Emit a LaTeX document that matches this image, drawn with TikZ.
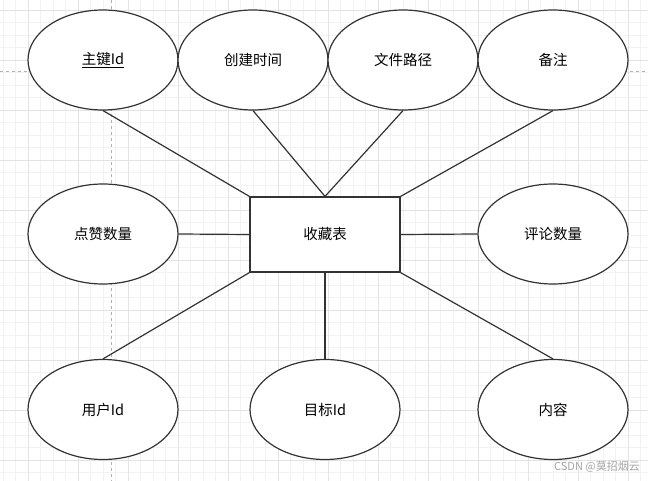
\documentclass[tikz,border=0pt]{standalone}
\usepackage{fontspec}
\newfontfamily\cjk{Noto Sans CJK SC}
\usetikzlibrary{shapes.geometric}

\begin{document}
\begin{tikzpicture}[x=1pt,y=-1pt,
  attr/.style={ellipse,draw=black!80,line width=1.2pt,fill=white,minimum width=150pt,minimum height=100pt,inner sep=0pt,font=\cjk\fontsize{14.5}{16}\selectfont},
  entity/.style={rectangle,draw=black!80,line width=1.2pt,fill=white,minimum width=150pt,minimum height=75pt,inner sep=0pt,font=\cjk\fontsize{14.5}{16}\selectfont},
  link/.style={draw=black!80,line width=1.2pt},
  minorgrid/.style={draw=black!5,line width=0.6pt},
  majorgrid/.style={draw=black!11,line width=0.8pt},
  guide/.style={draw=black!30,dashed,line width=0.6pt}]
  \useasboundingbox (0,0) rectangle (648,481);
  \fill[white] (0,0) rectangle (648,481);
  % background grid
  \foreach \x in {3,15.5,...,648} \draw[minorgrid] (\x,0) -- (\x,481);
  \foreach \y in {10,22.5,...,481} \draw[minorgrid] (0,\y) -- (648,\y);
  \foreach \x in {28,78,...,648} \draw[majorgrid] (\x,0) -- (\x,481);
  \foreach \y in {10,60,...,481} \draw[majorgrid] (0,\y) -- (648,\y);
  \draw[guide] (111,0) -- (111,481);
  \draw[guide] (0,71) -- (648,71);

  % entity and attributes
  \node[entity] (fav) at (325,234.5) {收藏表};
  \node[attr] (pk)   at (103,60) {\underline{主键Id}};
  \node[attr] (ctime) at (253,60) {创建时间};
  \node[attr] (path) at (403,60) {文件路径};
  \node[attr] (note) at (553,60) {备注};
  \node[attr] (likes) at (103,234) {点赞数量};
  \node[attr] (cmts) at (553,234) {评论数量};
  \node[attr] (uid) at (103,409.5) {用户Id};
  \node[attr] (tid) at (325,409.5) {目标Id};
  \node[attr] (txt) at (553,409.5) {内容};

  % links
  \draw[link] (pk.south) -- (fav.north west);
  \draw[link] (ctime.south) -- (fav.north);
  \draw[link] (path.south) -- (fav.north);
  \draw[link] (note.south) -- (fav.north east);
  \draw[link] (likes.east) -- (fav.west);
  \draw[link] (cmts.west) -- (fav.east);
  \draw[link] (fav.south west) -- (uid.north);
  \draw[link] (fav.south) -- (tid.north);
  \draw[link] (fav.south east) -- (txt.north);

  \node[text=black!35,font=\cjk\fontsize{11}{12}\selectfont] (mark) at (597,467) {CSDN @莫招烟云};
\end{tikzpicture}
\end{document}
